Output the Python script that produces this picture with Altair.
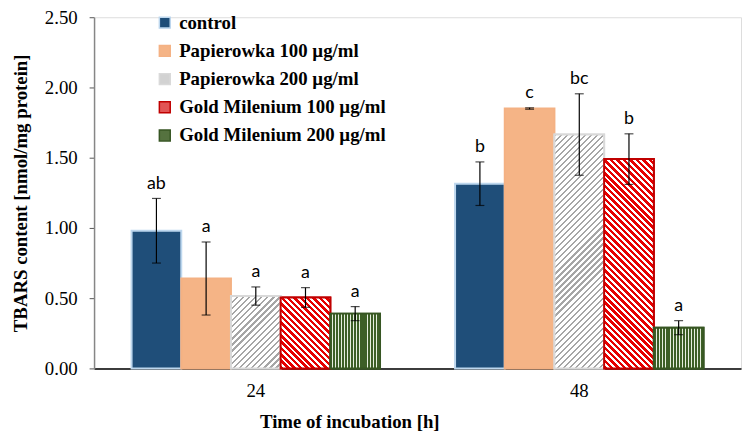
import math
import altair as alt
import pandas as pd

# ---------------- data ----------------
times = ["24", "48"]
series = [
    "control",
    "Papierowka 100 µg/ml",
    "Papierowka 200 µg/ml",
    "Gold Milenium 100 µg/ml",
    "Gold Milenium 200 µg/ml",
]
values_24 = [0.98, 0.64, 0.515, 0.505, 0.39]
values_48 = [1.315, 1.85, 1.665, 1.49, 0.29]
err_24 = [0.23, 0.26, 0.065, 0.07, 0.05]
err_48 = [0.155, 0.005, 0.29, 0.18, 0.05]
letters_24 = ["ab", "a", "a", "a", "a"]
letters_48 = ["b", "c", "bc", "b", "a"]

rows = []
for t, vals, errs, lets in zip(times, [values_24, values_48], [err_24, err_48], [letters_24, letters_48]):
    for s, v, e, l in zip(series, vals, errs, lets):
        rows.append(dict(time=t, series=s, value=v, lo=v - e, hi=v + e, letter=l))
df = pd.DataFrame(rows)

# ---------------- styling ----------------
W, H = 654, 355
YMAX = 2.5
PAD_IN, PAD_OUT = 0.232, 0.116
step = W / (len(times) - PAD_IN + 2 * PAD_OUT)
bar_w = step * (1 - PAD_IN) / len(series)
px_per_unit = H / YMAX

fills = ["#1f4e79", "#f5b486", "#d2d2d2", "#e25555", "#55723f"]
strokes = ["#bdd7ee", "#f4b183", "#d9d9d9", "#c00000", "#375623"]

SERIF = "Liberation Serif, Times New Roman, Times, DejaVu Serif, serif"
YTITLE = "TBARS content [nmol/mg protein]"


def stripe_stops(c1, c2, n, frac):
    stops = []
    for i in range(n):
        a = i / n
        b = (i + frac) / n
        c = (i + 1) / n
        stops += [
            {"offset": round(a, 5), "color": c1},
            {"offset": round(b, 5), "color": c1},
            {"offset": round(b, 5), "color": c2},
            {"offset": round(c, 5), "color": c2},
        ]
    return stops


def diag_gradient(w, h, c1, c2, period, frac, down):
    t = (w + h) / (w * w + h * h)
    a, b = w * t, h * t
    n = max(1, round((w + h) / math.sqrt(2) / period))
    if down:
        x1, y1, x2, y2 = 0, 1, a, 1 - b
    else:
        x1, y1, x2, y2 = 0, 0, a, b
    return {"gradient": "linear", "x1": x1, "y1": y1, "x2": x2, "y2": y2,
            "stops": stripe_stops(c1, c2, n, frac)}


def vert_gradient(w, c1, c2, period, frac):
    n = max(1, round(w / period))
    return {"gradient": "linear", "x1": 0, "y1": 0, "x2": 1, "y2": 0,
            "stops": stripe_stops(c1, c2, n, frac)}


x_enc = alt.X(
    "time:N",
    sort=times,
    scale=alt.Scale(domain=times, paddingInner=PAD_IN, paddingOuter=PAD_OUT),
    title="Time of incubation [h]",
    axis=alt.Axis(
        labelAngle=0, ticks=False, domainColor="black", domainWidth=1.5,
        labelFont=SERIF, labelFontSize=19, labelColor="black", labelPadding=13,
        titleFont=SERIF, titleFontSize=19, titleFontWeight="bold", titleColor="black",
        titleX=258, titleY=60, titleBaseline="alphabetic",
    ),
)
xoff = alt.XOffset("series:N", sort=series,
                   scale=alt.Scale(domain=series, paddingInner=0, paddingOuter=0))
yscale = alt.Scale(domain=[0, YMAX], nice=False, zero=True)
yaxis = alt.Axis(
    values=[0, 0.5, 1.0, 1.5, 2.0, 2.5], format=".2f", grid=False,
    domainColor="#868686", domainWidth=1.5, tickColor="#555555", tickSize=5,
    labelFont=SERIF, labelFontSize=19, labelColor="black", labelPadding=12,
    titleFont=SERIF, titleFontSize=19, titleFontWeight="bold", titleColor="black",
    titlePadding=14,
)

legend = alt.Legend(
    title=None, orient="none", legendX=62, legendY=-4,
    symbolType="square", symbolSize=121, symbolStrokeWidth=1.5,
    labelFont=SERIF, labelFontSize=19, labelFontWeight="bold", labelColor="black",
    rowPadding=8.5, labelOffset=5, labelLimit=400,
)

base = alt.Chart(df).mark_bar(strokeWidth=2).encode(
    x=x_enc,
    xOffset=xoff,
    y=alt.Y("value:Q", scale=yscale, axis=yaxis, title=YTITLE),
    color=alt.Color("series:N", sort=series, scale=alt.Scale(domain=series, range=fills), legend=legend),
    stroke=alt.Stroke("series:N", sort=series, scale=alt.Scale(domain=series, range=strokes), legend=legend),
)

layers = [base]

# patterned overlays (hatching / stripes)
for rec in rows:
    s = rec["series"]
    h = rec["value"] * px_per_unit
    if s == series[2]:
        grad = diag_gradient(bar_w, h, "#a6a6a6", "#ffffff", 4.3, 0.38, down=False)
        stroke, sw = strokes[2], 2
    elif s == series[3]:
        grad = diag_gradient(bar_w, h, "#e60000", "#ffffff", 4.6, 0.55, down=True)
        stroke, sw = strokes[3], 2
    elif s == series[4]:
        grad = vert_gradient(bar_w, "#3d5f27", "#e6eedf", 3.0, 0.7)
        stroke, sw = strokes[4], 2
    else:
        continue
    layers.append(
        alt.Chart(df)
        .transform_filter((alt.datum.time == rec["time"]) & (alt.datum.series == s))
        .mark_bar(fill=grad, stroke=stroke, strokeWidth=sw)
        .encode(x=x_enc, xOffset=xoff, y=alt.Y("value:Q", scale=yscale, title=YTITLE))
    )

err = alt.Chart(df).mark_rule(color="black", strokeWidth=1.2).encode(
    x=x_enc, xOffset=xoff,
    y=alt.Y("lo:Q", scale=yscale, title=YTITLE), y2="hi:Q",
)
cap_lo = alt.Chart(df).mark_tick(color="black", thickness=1.2, size=9).encode(
    x=x_enc, xOffset=xoff, y=alt.Y("lo:Q", scale=yscale, title=YTITLE),
)
cap_hi = alt.Chart(df).mark_tick(color="black", thickness=1.2, size=9).encode(
    x=x_enc, xOffset=xoff, y=alt.Y("hi:Q", scale=yscale, title=YTITLE),
)
labels = alt.Chart(df).mark_text(
    font="Lato", fontSize=18, baseline="bottom", dy=-6, color="black"
).encode(
    x=x_enc, xOffset=xoff, y=alt.Y("hi:Q", scale=yscale, title=YTITLE), text="letter:N",
)

layers += [err, cap_lo, cap_hi, labels]

chart = (
    alt.layer(*layers)
    .properties(
        width=W, height=H, autosize="none",
        padding={"left": 87, "top": 7, "right": 2, "bottom": 67},
    )
    .configure_view(stroke=None)
    .configure(background="white")
)

chart.save("out.html", embed_options={"renderer": "svg", "actions": False})
